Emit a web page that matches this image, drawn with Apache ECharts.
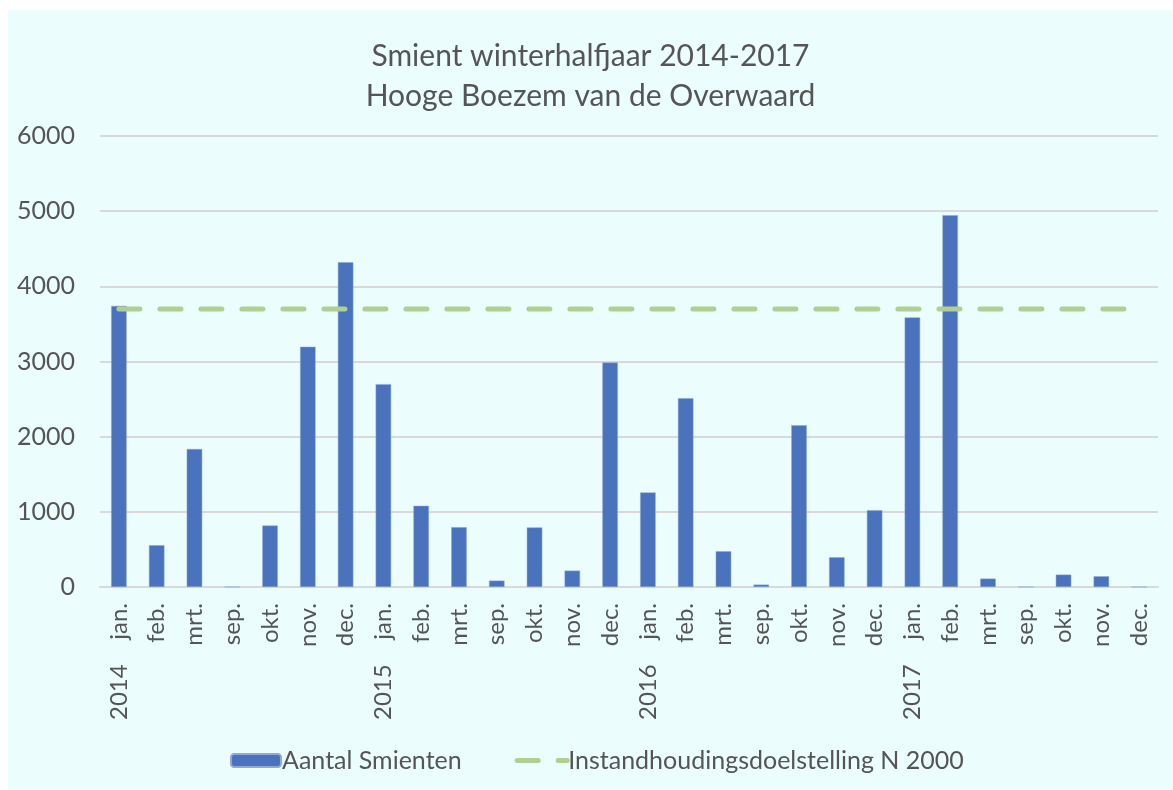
<!DOCTYPE html>
<html>
<head>
<meta charset="utf-8">
<script src="https://cdn.jsdelivr.net/npm/echarts@6/dist/echarts.min.js"></script>
<style>
  html, body { margin: 0; padding: 0; background: #ffffff; }
  #chart { position: absolute; left: 8px; top: 10px; width: 1165px; height: 780px; background: #ebfdfd; }
</style>
</head>
<body>
<div id="chart"></div>
<script>
const months = ['jan.', 'feb.', 'mrt.', 'sep.', 'okt.', 'nov.', 'dec.',
                'jan.', 'feb.', 'mrt.', 'sep.', 'okt.', 'nov.', 'dec.',
                'jan.', 'feb.', 'mrt.', 'sep.', 'okt.', 'nov.', 'dec.',
                'jan.', 'feb.', 'mrt.', 'sep.', 'okt.', 'nov.', 'dec.'];
const years = ['2014', '', '', '', '', '', '',
               '2015', '', '', '', '', '', '',
               '2016', '', '', '', '', '', '',
               '2017', '', '', '', '', '', ''];
const aantalSmienten = [3740, 556, 1836, 0, 818, 3196, 4320,
                        2698, 1080, 796, 85, 792, 218, 2987,
                        1258, 2512, 476, 32, 2152, 396, 1022,
                        3587, 4947, 112, 0, 165, 143, 0];
const doelstelling = [3700, 3700, 3700, 3700, 3700, 3700, 3700,
                      3700, 3700, 3700, 3700, 3700, 3700, 3700,
                      3700, 3700, 3700, 3700, 3700, 3700, 3700,
                      3700, 3700, 3700, 3700, 3700, 3700, 3700];
const yTicks = [0, 1000, 2000, 3000, 4000, 5000, 6000];

const categories = months.map((m, i) => years[i] ? years[i] + '    ' + m : m);
const FONT = 'Lato';
const TXT = '#555555';
const GREEN = '#b0cf90';
const DASH = [21, 20];

const chart = echarts.init(document.getElementById('chart'));
chart.setOption({
  backgroundColor: '#ebfdfd',
  animation: false,
  title: {
    text: 'Smient winterhalfjaar 2014-2017\nHooge Boezem van de Overwaard',
    left: 'center',
    top: 21,
    textStyle: { fontFamily: FONT, fontSize: 30, fontWeight: 'normal', color: TXT, lineHeight: 40 }
  },
  legend: {
    left: 217,
    top: 733,
    itemWidth: 50,
    itemHeight: 13,
    itemGap: 53,
    textStyle: { fontFamily: FONT, fontSize: 25, color: TXT, padding: [0, 0, 0, -4] },
    data: [
      { name: 'Aantal Smienten' },
      {
        name: 'Instandhoudingsdoelstelling N 2000',
        itemStyle: { opacity: 0 },
        lineStyle: { width: 5, type: DASH, cap: 'round', color: GREEN }
      }
    ]
  },
  grid: { left: 92, right: 15, top: 126, bottom: 203, containLabel: false },
  xAxis: {
    type: 'category',
    data: categories,
    axisTick: { show: false },
    axisLine: { lineStyle: { color: '#d9d9d9', width: 2 } },
    axisLabel: {
      rotate: 90,
      interval: 0,
      margin: 16,
      fontFamily: FONT,
      fontSize: 24,
      color: TXT
    }
  },
  yAxis: {
    type: 'value',
    min: yTicks[0],
    max: yTicks[yTicks.length - 1],
    interval: 1000,
    axisLine: { show: false },
    axisTick: { show: false },
    splitLine: { lineStyle: { color: '#d9d9d9', width: 2 } },
    axisLabel: { margin: 25, fontFamily: FONT, fontSize: 25, color: TXT, formatter: v => String(v) }
  },
  series: [
    {
      name: 'Aantal Smienten',
      type: 'bar',
      data: aantalSmienten,
      barWidth: '41%',
      itemStyle: { color: '#4a72bd', borderColor: '#8fa9d9', borderWidth: 0.5 }
    },
    {
      name: 'Instandhoudingsdoelstelling N 2000',
      type: 'line',
      data: doelstelling,
      symbol: 'none',
      z: 3,
      lineStyle: { color: GREEN, width: 5, type: DASH, cap: 'round' },
      itemStyle: { color: GREEN }
    }
  ]
});
</script>
</body>
</html>
